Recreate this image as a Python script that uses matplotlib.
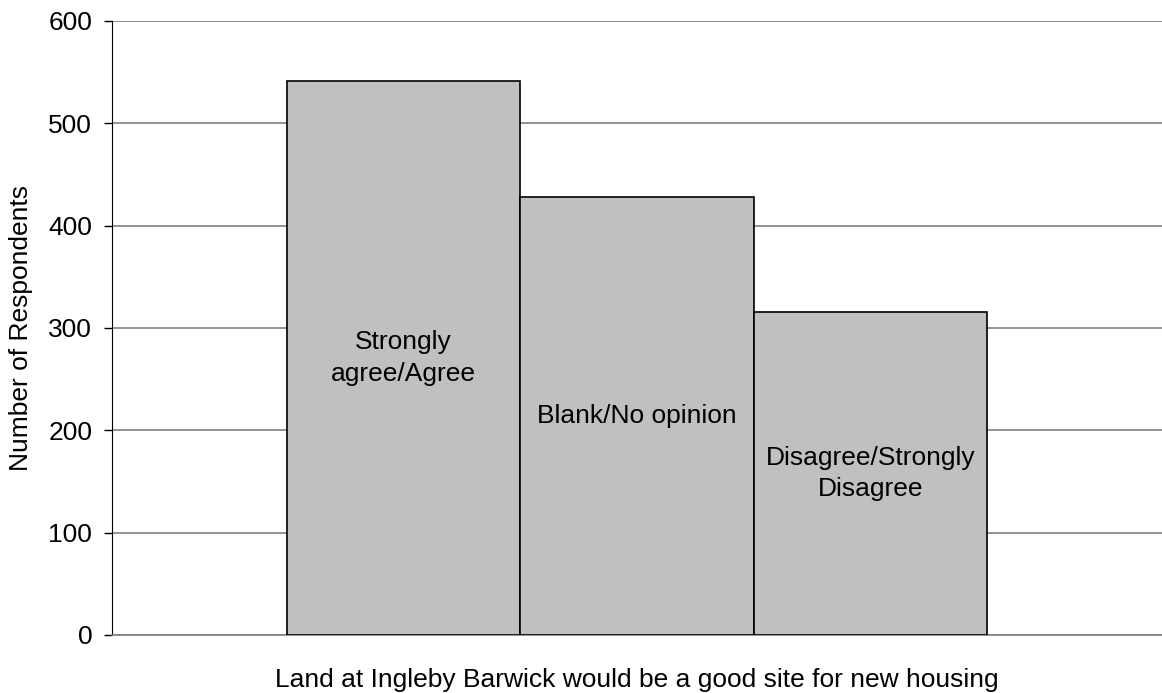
import matplotlib.pyplot as plt

plt.rcParams['font.family'] = ['Liberation Sans', 'DejaVu Sans']

categories = ["Strongly\nagree/Agree", "Blank/No opinion", "Disagree/Strongly\nDisagree"]
respondents = [541, 428, 316]
y_ticks = [0, 100, 200, 300, 400, 500, 600]

fs = 19

fig = plt.figure(figsize=(11.62, 6.93), dpi=100)
ax = fig.add_axes([0.0961, 0.0837, 0.9039, 0.886])

x = list(range(len(categories)))
ax.bar(x, respondents, width=1.0, color='#c0c0c0', edgecolor='black', linewidth=1.2, zorder=3)

# labels sit in the middle of each bar
for xi, val, lab in zip(x, respondents, categories):
    ax.text(xi, val / 2, lab, ha='center', va='center', fontsize=fs, linespacing=1.4, zorder=4)

ax.set_xlim(-1.25, 3.25)
ax.set_ylim(0, 600)
ax.set_yticks(y_ticks)
ax.set_xticks([])
ax.tick_params(axis='y', labelsize=fs, length=6, width=1, pad=8)
ax.yaxis.grid(True, color='#808080', linewidth=1.2, zorder=0)

for s in ['top', 'right']:
    ax.spines[s].set_visible(False)
ax.spines['left'].set_color('black')
ax.spines['bottom'].set_color('#808080')
ax.spines['bottom'].set_linewidth(1.2)

ax.set_ylabel('Number of Respondents', fontsize=fs, labelpad=11)
ax.set_xlabel('Land at Ingleby Barwick would be a good site for new housing', fontsize=fs, labelpad=24)

plt.savefig('out.png', dpi=100)
plt.close()
